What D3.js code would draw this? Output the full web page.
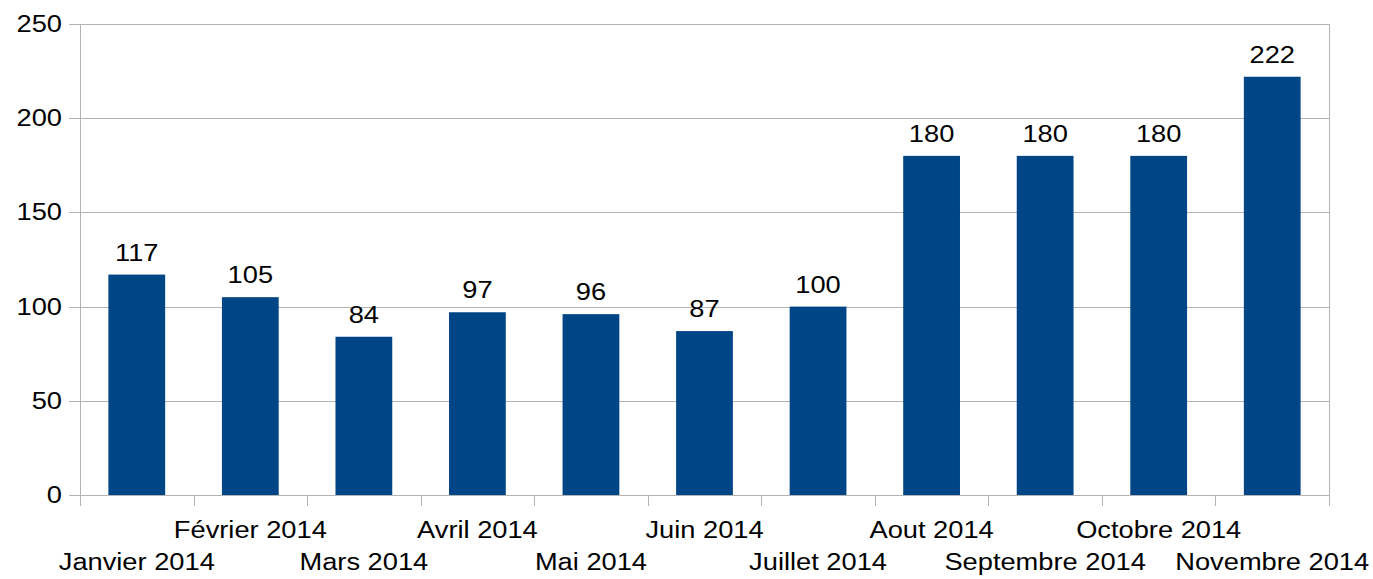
<!DOCTYPE html>
<html>
<head>
<meta charset="utf-8">
<script src="https://cdnjs.cloudflare.com/ajax/libs/d3/7.8.5/d3.min.js"></script>
<style>
  body { margin: 0; background: #fff; }
  text { font-family: "Liberation Sans", Arial, sans-serif; }
</style>
</head>
<body>
<script>
var months = ["Janvier 2014","Février 2014","Mars 2014","Avril 2014","Mai 2014","Juin 2014",
              "Juillet 2014","Aout 2014","Septembre 2014","Octobre 2014","Novembre 2014"];
var values = [117,105,84,97,96,87,100,180,180,180,222];
var yTicks = [0,50,100,150,200,250];

var W = 1373, H = 579;
var plotL = 80, plotR = 1329, plotT = 24, plotB = 495;
var fs = "23.5px", sx = 1.16;   // the reference glyphs are a bit wide

function place(xx, yy) { return "translate(" + xx + "," + yy + ") scale(" + sx + ",1)"; }

var svg = d3.select("body").append("svg")
    .attr("width", W)
    .attr("height", H);

var x = d3.scaleBand()
    .domain(months)
    .range([plotL, plotR])
    .paddingInner(0.5)
    .paddingOuter(0.25);

var y = d3.scaleLinear()
    .domain([0, 250])
    .range([plotB, plotT]);

// horizontal grid + y ticks
svg.append("g").selectAll("line")
    .data(yTicks)
    .enter().append("line")
    .attr("x1", plotL - 11)
    .attr("x2", plotR)
    .attr("y1", function(d) { return Math.round(y(d)) + 0.5; })
    .attr("y2", function(d) { return Math.round(y(d)) + 0.5; })
    .attr("stroke", "#b3b3b3")
    .attr("stroke-width", 1);

svg.append("g").selectAll("text")
    .data(yTicks)
    .enter().append("text")
    .attr("transform", function(d) { return place(62, y(d) + 8); })
    .attr("text-anchor", "end")
    .attr("font-size", fs)
    .attr("fill", "#000")
    .text(function(d) { return d; });

// plot frame sides
svg.append("line")
    .attr("x1", plotL + 0.5).attr("x2", plotL + 0.5)
    .attr("y1", plotT).attr("y2", plotB + 11)
    .attr("stroke", "#b3b3b3");
svg.append("line")
    .attr("x1", plotR + 0.5).attr("x2", plotR + 0.5)
    .attr("y1", plotT).attr("y2", plotB + 11)
    .attr("stroke", "#b3b3b3");

// category boundary ticks
var step = x.step();
var bounds = d3.range(1, months.length).map(function(i) { return plotL + i * step; });
svg.append("g").selectAll("line")
    .data(bounds)
    .enter().append("line")
    .attr("x1", function(d) { return Math.round(d) + 0.5; })
    .attr("x2", function(d) { return Math.round(d) + 0.5; })
    .attr("y1", plotB)
    .attr("y2", plotB + 11)
    .attr("stroke", "#b3b3b3");

// bars
svg.append("g").selectAll("rect")
    .data(values)
    .enter().append("rect")
    .attr("x", function(d, i) { return x(months[i]); })
    .attr("width", x.bandwidth())
    .attr("y", function(d) { return y(d); })
    .attr("height", function(d) { return plotB - y(d); })
    .attr("fill", "#004586");

// value labels
svg.append("g").selectAll("text")
    .data(values)
    .enter().append("text")
    .attr("transform", function(d, i) { return place(x(months[i]) + x.bandwidth() / 2, y(d) - 14); })
    .attr("text-anchor", "middle")
    .attr("font-size", fs)
    .attr("fill", "#000")
    .text(function(d) { return d; });

// category labels, staggered
svg.append("g").selectAll("text")
    .data(months)
    .enter().append("text")
    .attr("transform", function(d, i) { return place(x(d) + x.bandwidth() / 2, i % 2 == 0 ? 570 : 538); })
    .attr("text-anchor", "middle")
    .attr("font-size", fs)
    .attr("fill", "#000")
    .text(function(d) { return d; });
</script>
</body>
</html>
